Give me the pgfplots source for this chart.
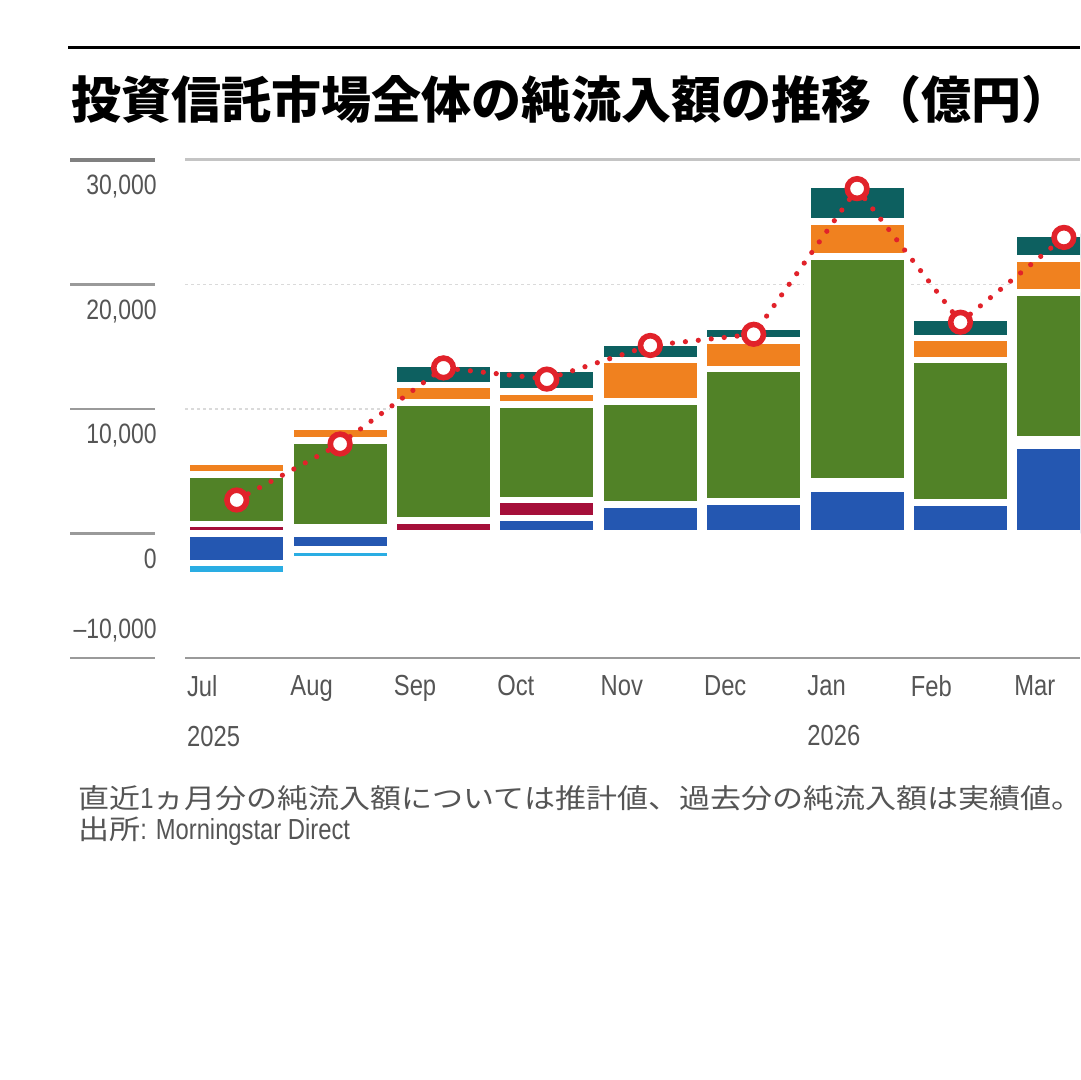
\documentclass[border=0pt]{standalone}
\usepackage{fontspec}
\usepackage{pgfplots}
\usepackage{pgfplotstable}
\pgfplotsset{compat=1.18}
\setmainfont{Liberation Sans}
\newfontfamily\narrow[FakeStretch=0.82]{Liberation Sans}
\newfontfamily\cjk{Noto Sans CJK JP}
\newfontfamily\cjkwide[FakeStretch=1.14]{Noto Sans CJK JP}

\definecolor{cblue}{HTML}{2457B1}
\definecolor{ccrim}{HTML}{A50F3A}
\definecolor{cgreen}{HTML}{518227}
\definecolor{corange}{HTML}{F0811F}
\definecolor{cteal}{HTML}{0D6060}
\definecolor{ccyan}{HTML}{2AADE3}
\definecolor{cred}{HTML}{E1222A}
\definecolor{lab}{HTML}{555555}
\definecolor{rulec}{HTML}{9A9A9A}
\definecolor{topc}{HTML}{C4C4C4}
\definecolor{dotc}{HTML}{DADADA}

\pgfplotstableread{
x blue crim green orange teal
0 0 775 3963 1028 0
1 0 520 6930 1124 0
2 0 1044 9500 1381 1734
3 1245 1430 7709 1036 1839
4 2329 0 8287 3316 1413
5 2553 0 10672 2272 1108
6 3622 560 18043 2835 2939
7 2489 0 11443 1767 1630
8 7026 540 11804 2730 1975
}\postab

\pgfplotstableread{
x blue cyan
0 -2369 -988
1 -1300 -770
}\negtab

\pgfplotstableread{
x total
0 2690
1 7190
2 13300
3 12400
4 15100
5 16000
6 27700
7 16970
8 23780
}\nettab

\pgfplotsset{
  base/.style={
    at={(92.5pt,211pt)}, anchor=south west, scale only axis,
    width=447.5pt, height=249pt,
    xmin=-0.5, xmax=8.156, ymin=-10000, ymax=30000,
  },
  seg/.style={fill=#1, draw=white, line width=3.3pt},
}

\begin{document}
\begin{tikzpicture}
\path[use as bounding box] (0,0) rectangle (540pt,540pt);
\fill[white] (0,0) rectangle (540pt,540pt);

% top rule and title
\draw[black, line width=1.5pt] (34pt,516pt) -- (540pt,516pt);
\node[anchor=west, inner sep=0pt] at (35.5pt,490pt)
  {\cjk\bfseries\fontsize{25}{25}\selectfont 投資信託市場全体の純流入額の推移（億円）};

% axis 1: frame, labels, negative bars
\begin{axis}[base,
  clip mode=individual,
  ybar stacked, bar width=0.963,
  axis line style={draw=none}, major tick length=0pt,
  scaled y ticks=false,
  ytick={0,10000,20000,30000},
  yticklabels={{0},{10,000},{20,000},{30,000}},
  yticklabel style={anchor=north east, inner sep=0pt, xshift=-14pt, yshift=-7.5pt,
    font=\narrow\fontsize{14}{14}\selectfont, text=lab},
  xtick={0,1,2,3,4,5,6,7,8},
  xticklabels={{Jul\\2025},Aug,Sep,Oct,Nov,Dec,{Jan\\2026},Feb,Mar},
  xticklabel style={anchor=north west, align=left, inner sep=0pt, xshift=-25pt, yshift=-8.5pt,
    font=\narrow\fontsize{14.5}{25}\selectfont, text=lab},
]
\draw[topc, line width=1.5pt] (rel axis cs:0,1) -- (rel axis cs:1,1);
\draw[dotc, line width=0.9pt, dash pattern=on 1.5pt off 1.5pt] (axis cs:-0.5,20000) -- (axis cs:8.156,20000);
\draw[dotc, line width=0.9pt, dash pattern=on 1.5pt off 1.5pt] (axis cs:-0.5,10000) -- (axis cs:8.156,10000);
\draw[rulec, line width=1.2pt] (rel axis cs:0,0) -- (rel axis cs:1,0);
\draw[gray, line width=1.7pt] ([xshift=-57.5pt]axis cs:-0.5,30000) -- ([xshift=-15pt]axis cs:-0.5,30000);
\draw[rulec, line width=1.1pt] ([xshift=-57.5pt]axis cs:-0.5,20000) -- ([xshift=-15pt]axis cs:-0.5,20000);
\draw[rulec, line width=1.1pt] ([xshift=-57.5pt]axis cs:-0.5,10000) -- ([xshift=-15pt]axis cs:-0.5,10000);
\draw[rulec, line width=1.1pt] ([xshift=-57.5pt]axis cs:-0.5,0) -- ([xshift=-15pt]axis cs:-0.5,0);
\draw[rulec, line width=1.1pt] ([xshift=-57.5pt]axis cs:-0.5,-10000) -- ([xshift=-15pt]axis cs:-0.5,-10000);
\node[anchor=south east, inner sep=0pt, text=lab, font=\narrow\fontsize{14}{14}\selectfont]
  at ([xshift=-14pt, yshift=8pt]axis cs:-0.5,-10000) {–10,000};
\addplot[seg=cblue] table[x=x, y=blue] {\negtab};
\addplot[seg=ccyan] table[x=x, y=cyan] {\negtab};
\end{axis}

% axis 2: positive stacked bars
\begin{axis}[base, hide axis, ybar stacked, bar width=0.963]
\addplot[seg=cblue] table[x=x, y=blue] {\postab};
\addplot[seg=ccrim] table[x=x, y=crim] {\postab};
\addplot[seg=cgreen] table[x=x, y=green] {\postab};
\addplot[seg=corange] table[x=x, y=orange] {\postab};
\addplot[seg=cteal] table[x=x, y=teal] {\postab};
\end{axis}

% axis 3: net flow line
\begin{axis}[base, hide axis, clip=false]
\addplot[cred, line width=2.6pt, line cap=round, dash pattern=on 0pt off 6.5pt,
  mark=*, mark size=4.9pt,
  mark options={solid, fill=white, draw=cred, line width=2.8pt}]
  table[x=x, y=total] {\nettab};
\end{axis}

% footnotes
\node[anchor=west, inner sep=0pt, text=lab] at (39pt,141pt)
  {\cjkwide\fontsize{13.6}{13.6}\selectfont 直近{\narrow\fontsize{14.5}{14.5}\selectfont 1}ヵ月分の純流入額については推計値、過去分の純流入額は実績値。};
\node[anchor=west, inner sep=0pt, text=lab] at (39pt,124.5pt)
  {\cjkwide\fontsize{13.6}{13.6}\selectfont 出所{\narrow\fontsize{14.5}{14.5}\selectfont : Morningstar Direct}};
\end{tikzpicture}
\end{document}
